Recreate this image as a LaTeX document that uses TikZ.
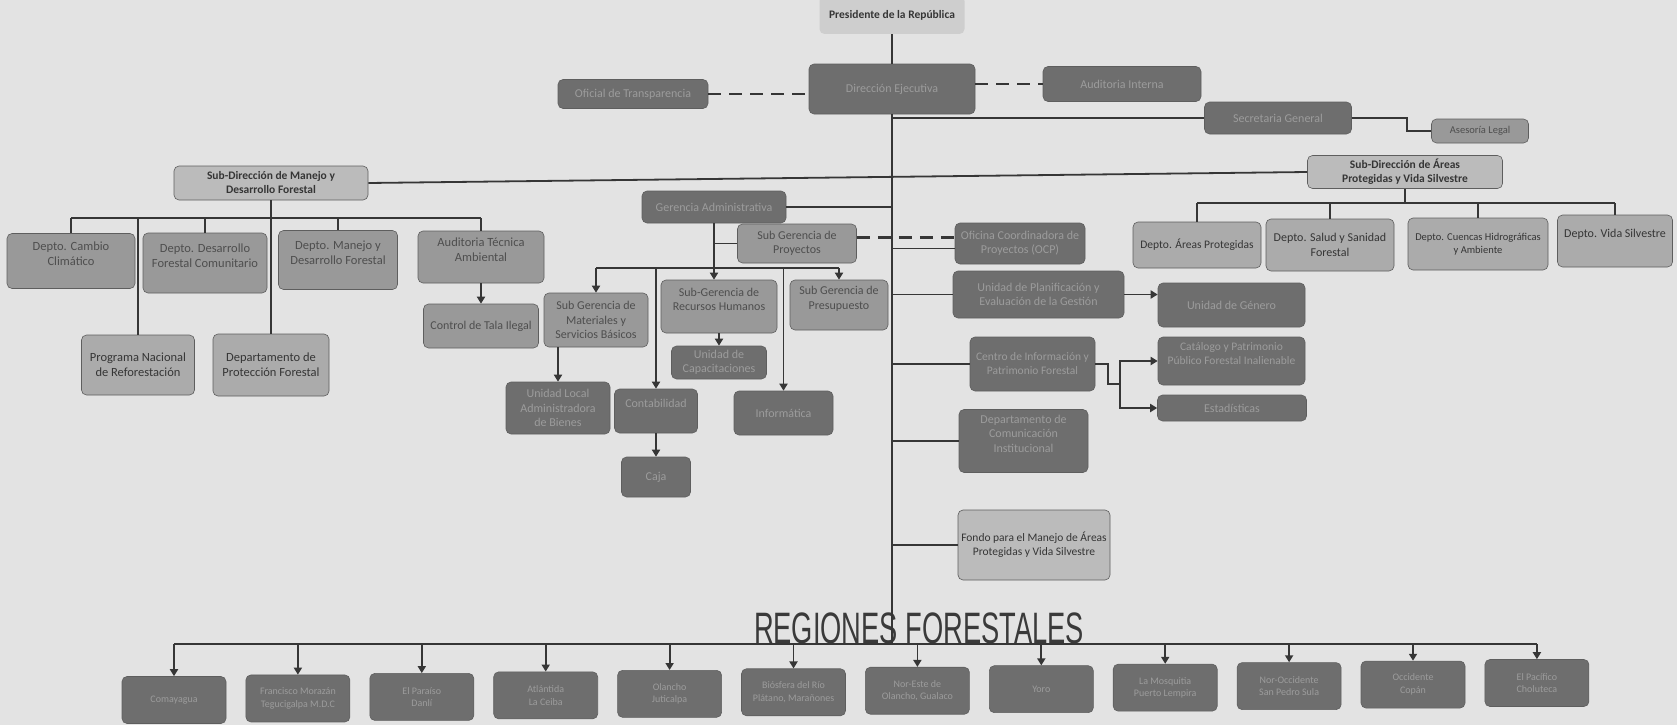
\documentclass[tikz,border=0pt]{standalone}
\usepackage{fontspec}
\usepackage{graphicx}
\setmainfont{Carlito}
\newfontfamily\regfont{Liberation Sans}
\usetikzlibrary{arrows.meta,calc}
\definecolor{bgc}{HTML}{E3E3E3}
\definecolor{dkfill}{HTML}{6E6E6E}
\definecolor{dktext}{HTML}{9C9C9C}
\definecolor{mdfill}{HTML}{999999}
\definecolor{mdtext}{HTML}{4E4E4E}
\definecolor{ltfill}{HTML}{ABABAB}
\definecolor{hdfill}{HTML}{BBBBBB}
\definecolor{presc}{HTML}{CECECE}
\definecolor{lttext}{HTML}{353535}
\definecolor{bordc}{HTML}{5E5E5E}
\definecolor{lncol}{HTML}{363636}
\definecolor{regcol}{HTML}{3A3A3A}
\begin{document}
\begin{tikzpicture}[x=1pt,y=-1pt,
  base/.style={rectangle, rounded corners=5pt, align=center, inner sep=1pt,
    draw=bordc, line width=0.6pt, font=\fontsize{12}{14.5}\selectfont},
  dk/.style={base, fill=dkfill, text=dktext},
  md/.style={base, fill=mdfill, text=mdtext},
  lt/.style={base, fill=ltfill, text=lttext},
  hdbox/.style={base, fill=hdfill, text=lttext, font=\bfseries\fontsize{11.5}{14}\selectfont},
  sz/.style 2 args={minimum width=#1pt, minimum height=#2pt},
  sm/.style={font=\fontsize{10.5}{13}\selectfont},
  mf/.style={font=\fontsize{11.5}{14}\selectfont},
  lf/.style={font=\fontsize{12.5}{15}\selectfont},
  rf/.style={font=\fontsize{10}{12.5}\selectfont},
  ln/.style={draw=lncol, line width=1.8pt},
  arr/.style={ln, -{Triangle[width=8pt,length=7pt]}},
  dsh/.style={draw=lncol, line width=2.2pt, dash pattern=on 13pt off 8pt}]

\fill[bgc] (0,0) rectangle (1677,725);
\useasboundingbox (0,0) rectangle (1677,725);
\coordinate (tr) at (892,0);
\coordinate (trb) at (892,644);
\coordinate (apbar) at (0,203);
\coordinate (mfbar) at (0,218);
\coordinate (gabar) at (0,268);
\coordinate (jn) at (1120,384);

% ---------- top ----------
\node[hdbox, fill=presc, draw=none, sz={145}{38}] (pres) at (892,15) {Presidente de la República};
\node[dk, sz={166}{50}] (de) at (892,89) {Dirección Ejecutiva};
\node[dk, sz={150}{29}] (ot) at (633,94) {Oficial de Transparencia};
\node[dk, sz={158}{35}] (ai) at (1122,84) {Auditoria Interna};
\node[dk, sz={147}{32}] (sg) at (1278,118) {Secretaria General};
\node[md, sm, sz={97}{24}] (al) at (1480,131) {Asesoría Legal};

% ---------- sub-direcciones ----------
\node[hdbox, sz={194}{34}] (sdmf) at (271,183) {Sub-Dirección de  Manejo y\\Desarrollo Forestal};
\node[hdbox, sz={195}{33}] (sdap) at (1405,172) {Sub-Dirección de Áreas\\Protegidas y Vida Silvestre};

\node[lt, mf, sz={128}{46}] (ap) at (1197,245) {Depto. Áreas Protegidas};
\node[lt, sz={128}{52}] (ss) at (1330,245) {Depto. Salud y Sanidad\\Forestal};
\node[lt, sm, sz={140}{52}] (ch) at (1478,244) {Depto. Cuencas Hidrográficas\\y Ambiente};
\node[lt, sz={115}{52}] (vs) at (1615,241) {Depto. Vida Silvestre\\\mbox{}};

\node[md, lf, sz={128}{55}] (cc) at (71,261) {Depto. Cambio\\Climático\\\mbox{}};
\node[md, lf, sz={124}{60}] (dfc) at (205,263) {Depto. Desarrollo\\Forestal Comunitario\\\mbox{}};
\node[md, lf, sz={119}{59}] (mdf) at (338,260) {Depto. Manejo y\\Desarrollo Forestal\\\mbox{}};
\node[md, lf, sz={126}{52}] (ata) at (481,257) {Auditoria Técnica\\Ambiental\\\mbox{}};
\node[lt, lf, sz={113}{60}] (pnr) at (138,365) {Programa Nacional\\de Reforestación};
\node[lt, lf, sz={116}{62}] (dpf) at (271,365) {Departamento de\\Protección Forestal};
\node[md, sz={115}{44}] (cti) at (481,326) {Control de Tala Ilegal};

% ---------- gerencia ----------
\node[dk, sz={144}{32}] (ga) at (714,207) {Gerencia Administrativa};
\node[md, sz={119}{39}] (sgp) at (797,243.5) {Sub Gerencia de\\Proyectos};
\node[dk, sz={130}{41}] (ocp) at (1020,243.5) {Oficina Coordinadora de\\Proyectos (OCP)};
\node[md, sz={104}{54}] (sgm) at (596,320) {Sub Gerencia de\\Materiales y\\Servicios Básicos};
\node[md, sz={116}{53}] (rrhh) at (719,306.5) {Sub-Gerencia de\\Recursos Humanos\\\mbox{}};
\node[md, sz={98}{50}] (sgpr) at (839,305) {Sub Gerencia de\\Presupuesto\\\mbox{}};
\node[dk, sz={95}{33}] (uc) at (719,362.5) {Unidad de\\Capacitaciones};
\node[dk, sz={104}{52}] (ulab) at (558,408) {Unidad  Local\\Administradora\\de Bienes};
\node[dk, sz={83}{44}] (cont) at (656,411) {Contabilidad\\\mbox{}};
\node[dk, sz={69}{40}] (caja) at (656,477) {Caja};
\node[dk, sz={99}{44}] (inf) at (783.5,413) {Informática};

% ---------- right column ----------
\node[dk, sz={171}{47}] (upeg) at (1038.5,294.5) {Unidad de Planificación y\\Evaluación de la Gestión};
\node[dk, sz={147}{44}] (ug) at (1231.5,305) {Unidad de Género};
\node[dk, mf, sz={125}{54}] (cipf) at (1032.5,364) {Centro de Información y\\Patrimonio Forestal};
\node[dk, mf, sz={147}{48}] (cppfi) at (1231.5,361) {Catálogo y Patrimonio\\Público Forestal Inalienable\\\mbox{}};
\node[dk, sz={149}{26}] (est) at (1232,408) {Estadísticas};
\node[dk, sz={129}{63}] (dci) at (1023.5,441) {Departamento de\\Comunicación\\Institucional\\\mbox{}};
\node[lt, mf, fill=hdfill, sz={152}{70}] (fondo) at (1034,545) {Fondo para el Manejo de Áreas\\Protegidas y Vida Silvestre};

% ---------- regiones ----------
\node[font=\regfont\fontsize{44}{44}\selectfont, text=regcol, inner sep=0pt] (reg) at (919,628) {\scalebox{0.62}[1]{REGIONES FORESTALES}};

\foreach \t [count=\i] in {{Comayagua}, {Francisco Morazán\\Tegucigalpa M.D.C}, {El Paraíso\\Danlí},
  {Atlántida\\La Ceiba}, {Olancho\\Juticalpa}, {Biósfera del Río\\Plátano, Marañones},
  {Nor-Este de\\Olancho, Gualaco}, {Yoro}, {La Mosquitia\\Puerto Lempira},
  {Nor-Occidente\\San Pedro Sula}, {Occidente\\Copán}, {El Pacífico\\Choluteca}} {
  \node[dk, rf, sz={104}{47}] (r\i) at ({174+123.9*(\i-1)}, {700-17*(\i-1)/11}) {\t};
}

% ---------- connectors ----------
\draw[ln] (pres) -- (de);
\draw[ln] (de.south) -- (trb);
\draw[dsh] (ot.east) -- (ot.east -| de.west);
\draw[dsh] (ai.west -| de.east) -- (ai.west);
\draw[ln] (sg.west -| tr) -- (sg.west);
\draw[ln] (sg.east) -| ([xshift=-24pt]al.west) -- (al.west);
\draw[ln] (sdmf.east) -- (sdap.west);

\draw[ln] (sdap.south) -- (sdap.south |- apbar);
\draw[ln] (ap.north |- apbar) -- (vs.north |- apbar);
\foreach \n in {ap,ss,ch,vs} \draw[ln] (\n.north |- apbar) -- (\n.north);

\draw[ln] (cc.north |- mfbar) -- (ata.north |- mfbar);
\foreach \n in {cc,dfc,mdf,ata,pnr} \draw[ln] (\n.north |- mfbar) -- (\n.north);
\draw[ln] (sdmf.south) -- (dpf.north);
\draw[arr] (ata.south) -- (cti.north);

\draw[ln] (ga.east) -- (ga.east -| tr);
\draw[arr] (ga.south) -- (ga.south |- rrhh.north);
\draw[ln] (ga.south |- sgp.west) -- (sgp.west);
\draw[dsh] ([yshift=6pt]sgp.east) -- ([yshift=6pt]sgp.east -| ocp.west);
\draw[ln] ([yshift=-5pt]ocp.west) -- ([yshift=-5pt]ocp.west -| tr);
\draw[ln] (sgm.north |- gabar) -- (sgpr.north |- gabar);
\foreach \n in {sgm,sgpr,cont,inf} \draw[arr] (\n.north |- gabar) -- (\n.north);
\draw[arr] (rrhh.south) -- (uc.north);
\draw[arr] (ulab.north |- sgm.south) -- (ulab.north);
\draw[arr] (cont.south) -- (caja.north);

\draw[ln] (upeg.west -| tr) -- (upeg.west);
\draw[arr] (upeg.east) -- (upeg.east -| ug.west);
\draw[ln] (cipf.west -| tr) -- (cipf.west);
\draw[ln] (cipf.east) -- ++(13,0) |- (jn);
\draw[arr] (jn) |- (cppfi.west);
\draw[arr] (jn) |- (est.west);
\draw[ln] (dci.west -| tr) -- (dci.west);
\draw[ln] (fondo.west -| tr) -- (fondo.west);

\draw[ln] (r1.north |- trb) -- (r12.north |- trb);
\foreach \i in {1,...,12} \draw[arr] (r\i.north |- trb) -- (r\i.north);
\end{tikzpicture}
\end{document}
